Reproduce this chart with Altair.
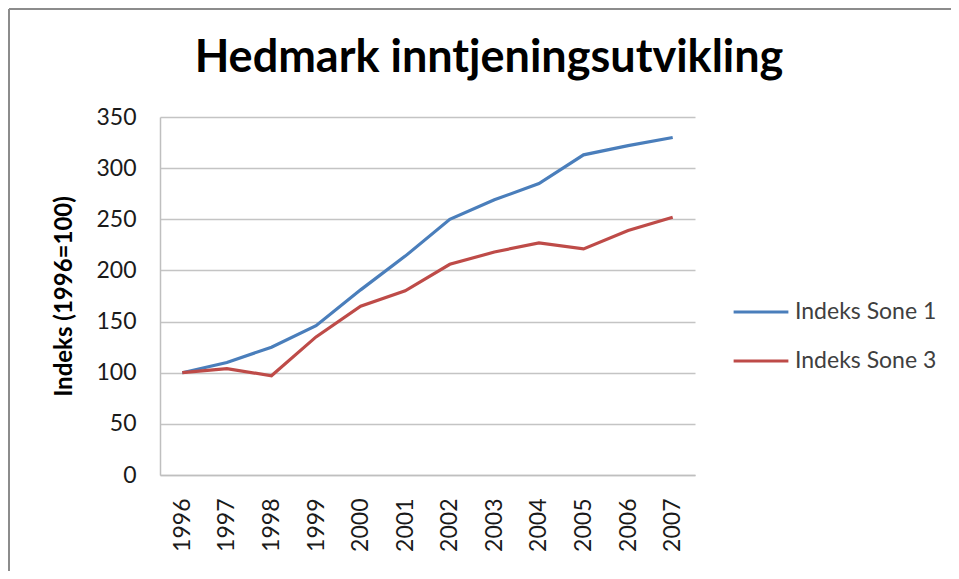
import altair as alt
import pandas as pd

years = ["1996", "1997", "1998", "1999", "2000", "2001", "2002", "2003", "2004", "2005", "2006", "2007"]
sone1 = [100, 110, 125, 146, 181, 214, 250, 269, 285, 313, 322, 330]
sone3 = [100, 104, 97, 135, 165, 180, 206, 218, 227, 221, 239, 252]
series_names = ["Indeks Sone 1", "Indeks Sone 3"]
colors = ["#4a7ebb", "#be4b48"]
title_text = ["Hedmark inntjeningsutvikling"]

rows = []
for name, vals in zip(series_names, [sone1, sone3]):
    for y, v in zip(years, vals):
        rows.append({"År": y, "Indeks": v, "Serie": name})
df = pd.DataFrame(rows)
tdf = pd.DataFrame({"t": title_text})

FONT = "Lato"

lines = alt.Chart(df).mark_line(strokeWidth=3.2).encode(
    x=alt.X("År:O", sort=years, scale=alt.Scale(type="point", padding=0.5),
            axis=alt.Axis(title=None, labelAngle=270, labelFontSize=23, labelColor="#1a1a1a",
                          labelFont=FONT, ticks=False, domainColor="#bfbfbf", domainWidth=1.5,
                          labelPadding=23, labelAlign="right", labelBaseline="middle")),
    y=alt.Y("Indeks:Q", scale=alt.Scale(domain=[0, 350], nice=False),
            axis=alt.Axis(title="Indeks (1996=100)", values=[0, 50, 100, 150, 200, 250, 300, 350],
                          labelFontSize=23, labelColor="#1a1a1a", labelFont=FONT, ticks=False,
                          labelPadding=24, domainColor="#bfbfbf", domainWidth=1.5,
                          gridColor="#c4c4c4", gridWidth=1.5,
                          titleFont=FONT, titleFontSize=24, titleFontWeight="bold",
                          titleColor="#000000", titlePadding=19)),
    color=alt.Color("Serie:N", scale=alt.Scale(domain=series_names, range=colors),
                    legend=alt.Legend(title=None, orient="none", legendX=572, legendY=166,
                                      symbolType="stroke", symbolStrokeWidth=3.2, symbolSize=3000,
                                      labelFontSize=23, labelFont=FONT, labelColor="#404040",
                                      rowPadding=8, labelOffset=5)),
)

title = alt.Chart(tdf).mark_text(font=FONT, fontSize=45, fontWeight="bold", color="#000000",
                                 align="center", baseline="alphabetic", clip=False).encode(
    text="t:N", x=alt.value(329), y=alt.value(-45)
)

top_line = alt.Chart(tdf).mark_rule(color="#8c8c8c", strokeWidth=2, clip=False).encode(
    x=alt.value(-151), x2=alt.value(791), y=alt.value(-108)
)
left_line = alt.Chart(tdf).mark_rule(color="#8c8c8c", strokeWidth=2, clip=False).encode(
    x=alt.value(-151), y=alt.value(-108), y2=alt.value(454)
)

chart = alt.layer(top_line, left_line, title, lines).properties(
    width=535, height=358,
    padding={"left": 152, "top": 109, "right": 256, "bottom": 96},
    autosize=alt.AutoSizeParams(type="none"),
).configure_view(stroke=None)

chart.save("out.html", embed_options={"renderer": "svg", "actions": False})
